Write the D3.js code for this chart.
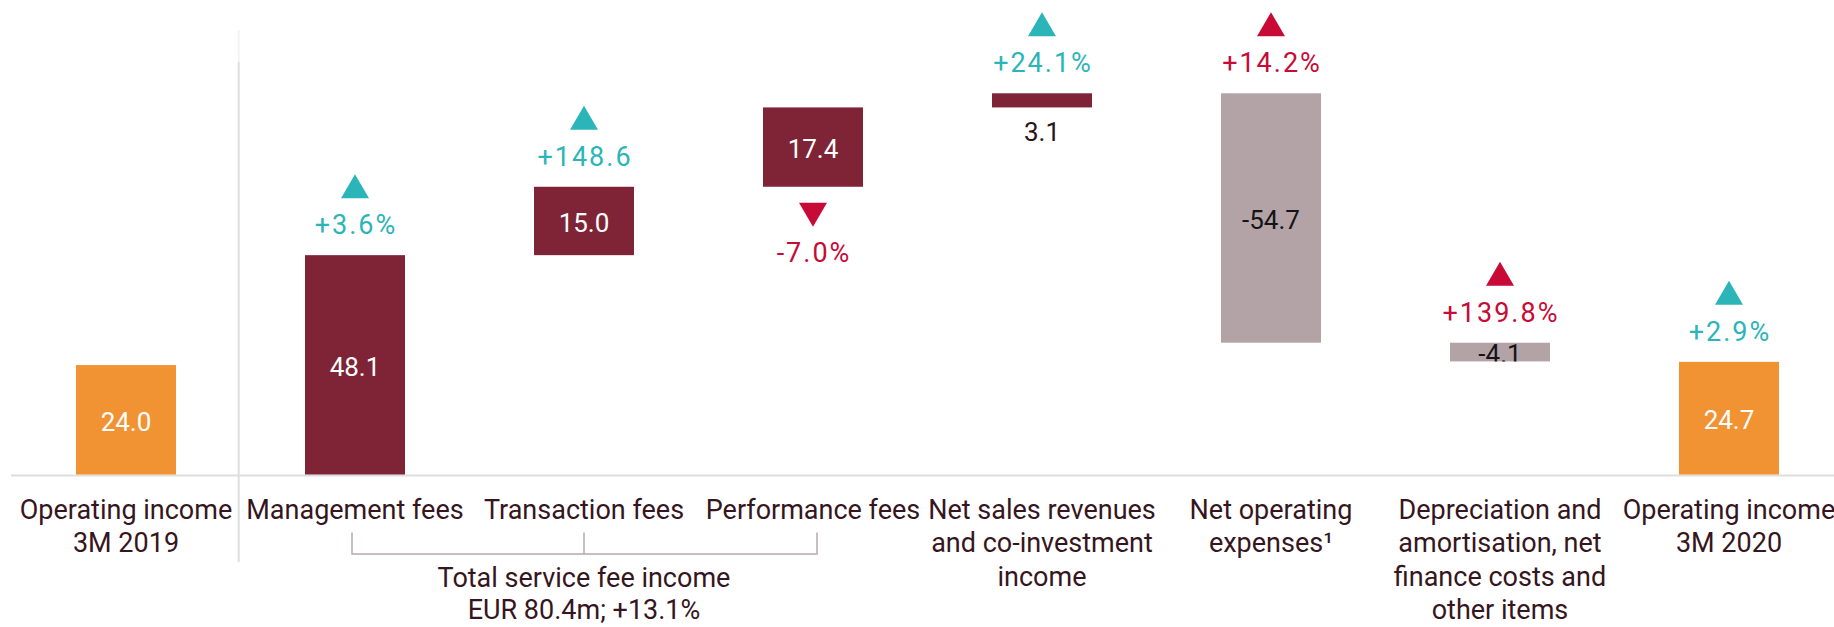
<!DOCTYPE html>
<html><head><meta charset="utf-8">
<script src="https://cdn.jsdelivr.net/npm/d3@7"></script>
<style>
html,body{margin:0;padding:0;background:#fff;}
svg{display:block;font-family:Roboto,"Liberation Sans",Arial,sans-serif;}
</style></head><body>
<svg id="chart" width="1834" height="627"></svg>
<script>
// ---- data ----
const categories = [
  "Operating income\n3M 2019",
  "Management fees",
  "Transaction fees",
  "Performance fees",
  "Net sales revenues\nand co-investment\nincome",
  "Net operating\nexpenses\u00b9",
  "Depreciation and\namortisation, net\nfinance costs and\nother items",
  "Operating income\n3M 2020"
];
const values     = [24.0, 48.1, 15.0, 17.4, 3.1, -54.7, -4.1, 24.7];
const barKinds   = ["total","delta","delta","delta","delta","delta","delta","total"];
const valueLabels = ["24.0","48.1","15.0","17.4","3.1","-54.7","-4.1","24.7"];
const changeLabels = [null, "+3.6%", "+148.6", "-7.0%", "+24.1%", "+14.2%", "+139.8%", "+2.9%"];
const changeDirs   = [null, "up", "up", "down", "up", "up", "up", "up"];
const changeGood   = [null, true, true, false, true, false, false, true];
const groupFrom = 1, groupTo = 3;
const groupLabel = ["Total service fee income", "EUR 80.4m; +13.1%"];

// ---- styles ----
const C = {
  total: "#f19233", pos: "#7f2436", neg: "#b3a3a7",
  good: "#2bb5b8", bad: "#c70a36",
  text: "#36161e", grid: "#dedede", bracket: "#b9a6ac"
};

const svg = d3.select("#chart");
const x = d3.scaleBand().domain(categories).range([11.5, 1843.5])
  .paddingInner(1 - 100/229).paddingOuter((1 - 100/229)/2);
const y = d3.scaleLinear().domain([0, 100]).range([474.5, 18.5]);

// compute waterfall extents
let run = 0;
const bars = categories.map((c, i) => {
  let y0, y1;
  if (barKinds[i] === "total") { y0 = 0; y1 = values[i]; }
  else { y0 = run; y1 = run + values[i]; run = y1; }
  return {c, i, v: values[i], y0, y1, lo: Math.min(y0, y1), hi: Math.max(y0, y1)};
});
const color = d => barKinds[d.i] === "total" ? C.total : (d.v >= 0 ? C.pos : C.neg);

// separator (between reference bar and components)
const sepX = (x(categories[0]) + x.bandwidth() + x(categories[1])) / 2 - 1.8;
svg.append("line").attr("x1", sepX).attr("x2", sepX).attr("y1", 30).attr("y2", 62)
  .attr("stroke", "#f3f3f3").attr("stroke-width", 2);
svg.append("line").attr("x1", sepX).attr("x2", sepX).attr("y1", 62).attr("y2", 562)
  .attr("stroke", C.grid).attr("stroke-width", 2);

// baseline
svg.append("line").attr("x1", 11).attr("x2", 1834).attr("y1", y(0) + 1).attr("y2", y(0) + 1)
  .attr("stroke", C.grid).attr("stroke-width", 2);

// bars
const defs = svg.append("defs");
bars.forEach(d => {
  defs.append("clipPath").attr("id", "clip" + d.i).append("rect")
    .attr("x", x(d.c)).attr("y", y(d.hi)).attr("width", x.bandwidth()).attr("height", y(d.lo) - y(d.hi));
});
svg.append("g").selectAll("rect").data(bars).join("rect")
  .attr("x", d => x(d.c)).attr("y", d => y(d.hi))
  .attr("width", x.bandwidth()).attr("height", d => y(d.lo) - y(d.hi))
  .attr("fill", color);

// value labels
bars.forEach(d => {
  const cx = x(d.c) + x.bandwidth() / 2;
  const h = y(d.lo) - y(d.hi);
  const t = svg.append("text").attr("x", cx).attr("text-anchor", "middle")
    .attr("font-size", 26).text(valueLabels[d.i]);
  if (h < 30 && d.v > 0) {
    t.attr("y", y(d.lo) + 34).attr("fill", "#2a1319");
  } else {
    t.attr("y", (y(d.lo) + y(d.hi)) / 2 + 11).attr("fill", color(d) === C.neg ? "#141414" : "#ffffff")
      .attr("clip-path", "url(#clip" + d.i + ")");
  }
});

// change labels with triangles
bars.forEach(d => {
  if (!changeLabels[d.i]) return;
  const cx = x(d.c) + x.bandwidth() / 2;
  const col = changeGood[d.i] ? C.good : C.bad;
  let base, triTop, up = changeDirs[d.i] === "up";
  if (up) { base = y(d.hi) - 21; triTop = base - 36 - 24; }
  else { triTop = y(d.lo) + 16; base = y(d.lo) + 75; }
  const tw = 14, th = 24;
  const pts = up
    ? [[cx - tw, triTop + th], [cx + tw, triTop + th], [cx, triTop]]
    : [[cx - tw, triTop], [cx + tw, triTop], [cx, triTop + th]];
  svg.append("path").attr("d", d3.line()(pts) + "Z").attr("fill", col);
  svg.append("text").attr("x", cx + 1).attr("y", base).attr("text-anchor", "middle")
    .attr("font-size", 27).attr("letter-spacing", 2).attr("fill", col)
    .text(changeLabels[d.i]);
});

// category labels
categories.forEach(c => {
  const cx = x(c) + x.bandwidth() / 2;
  const t = svg.append("text").attr("text-anchor", "middle").attr("font-size", 27)
    .attr("fill", C.text);
  c.split("\n").forEach((line, k) => {
    t.append("tspan").attr("x", cx).attr("y", 519 + k * 33.3).text(line);
  });
});

// group bracket
const gx = i => x(categories[i]) + x.bandwidth() / 2;
const bx0 = gx(groupFrom) - 3, bx1 = gx(groupTo) + 4;
svg.append("path")
  .attr("d", `M${bx0},532.5V554H${bx1}V532.5M${gx(2)},532.5V554`)
  .attr("fill", "none").attr("stroke", C.bracket).attr("stroke-width", 1.5);
const gt = svg.append("text").attr("text-anchor", "middle").attr("font-size", 27).attr("fill", C.text);
groupLabel.forEach((line, k) => {
  gt.append("tspan").attr("x", gx(2)).attr("y", 587 + k * 32).text(line);
});
</script>
</body></html>
